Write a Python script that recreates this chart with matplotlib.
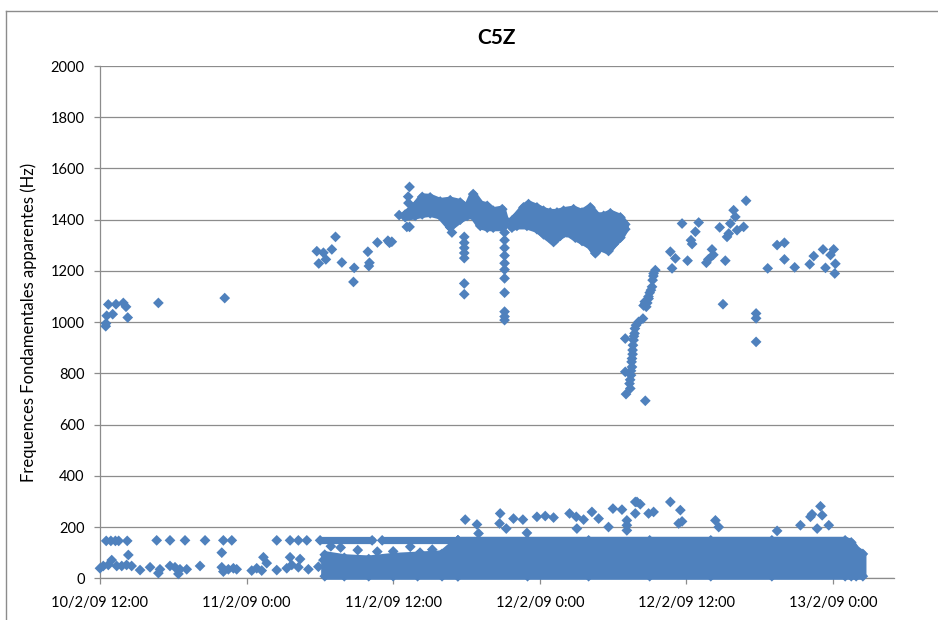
import numpy as np
import matplotlib
matplotlib.use('Agg')
import matplotlib.pyplot as plt
from matplotlib.lines import Line2D

plt.rcParams['font.family'] = ['Lato', 'DejaVu Sans']

# time is in hours since 10/2/09 12:00, values in Hz
tick_hours = [0, 12, 24, 36, 48, 60]
tick_labels = ['10/2/09 12:00', '11/2/09 0:00', '11/2/09 12:00',
               '12/2/09 0:00', '12/2/09 12:00', '13/2/09 0:00']

# isolated points in the upper (~700-1530 Hz) part
high_t = [0.47, 0.49, 0.55, 0.68, 1.04, 1.31, 1.91, 2.13, 2.27, 4.78, 10.21,
          17.75, 17.91, 18.29, 18.49, 18.98, 19.28, 19.80, 20.81, 20.75, 21.93,
          22.06, 22.01, 22.71, 23.57, 23.70, 23.89, 24.49, 25.12, 25.34, 25.34,
          25.23, 25.25, 28.81,
          29.82, 29.82, 29.82, 29.82, 29.82, 29.82, 29.82,
          33.12, 33.12, 33.12, 33.12, 33.12, 33.12, 33.12, 33.12, 33.12, 33.12,
          33.12,
          43.00, 43.00, 43.06, 43.41, 43.47, 43.55, 43.55, 43.60, 43.68, 43.76,
          43.88, 44.09, 44.45, 44.64, 44.64, 44.91, 44.72, 45.19, 45.24, 45.32,
          45.46, 43.79, 43.71, 43.63, 43.60, 43.52, 43.47, 43.40, 43.35, 44.50,
          44.60, 44.80, 44.90, 45.00, 45.10, 45.30,
          46.69, 46.83, 47.10, 47.65, 48.10, 48.38, 48.47, 48.74, 49.01, 49.64,
          49.80, 50.10, 50.21, 50.73, 51.00, 51.19, 51.33, 51.47, 51.60, 51.87,
          52.01, 52.15, 52.69, 52.89, 53.71, 53.71, 53.71, 54.66, 55.43, 56.03,
          56.03, 56.87, 58.10, 58.43, 59.19, 59.39, 59.80, 60.06, 60.15, 60.20]
high_hz = [984, 995, 1025, 1069, 1031, 1070, 1075, 1060, 1018, 1075, 1094,
           1277, 1229, 1271, 1245, 1284, 1333, 1233, 1212, 1157, 1275,
           1232, 1219, 1311, 1318, 1310, 1314, 1418, 1372, 1528, 1372,
           1490, 1465, 1350,
           1333, 1310, 1290, 1270, 1250, 1151, 1109,
           1350, 1320, 1290, 1260, 1230, 1205, 1171, 1115, 1041, 1022,
           1008,
           936, 806, 719, 741, 793, 825, 858, 891, 930, 956,
           988, 1001, 1014, 693, 1073, 1092, 1060, 1138, 1164, 1190,
           1203, 975, 945, 910, 875, 845, 810, 775, 760, 1065,
           1080, 1075, 1100, 1115, 1125, 1180,
           1275, 1210, 1249, 1385, 1240, 1320, 1305, 1353, 1389, 1232,
           1245, 1284, 1263, 1370, 1070, 1240, 1333, 1346, 1385, 1437,
           1411, 1359, 1372, 1474, 1034, 1015, 923, 1210, 1301, 1310,
           1245, 1214, 1226, 1258, 1284, 1212, 1262, 1284, 1190, 1228]

# dense cluster envelopes (marker centres on the outer edge)
c1_t = [24.98, 25.80, 26.38, 27.03, 27.85, 28.67, 29.49, 30.06, 30.55, 31.13,
        31.70, 32.19, 32.93, 33.17]
c1_hi = [1420, 1454, 1489, 1487, 1471, 1476, 1467, 1448, 1500, 1461,
         1454, 1435, 1441, 1400]
c1_lo = [1410, 1415, 1421, 1425, 1415, 1370, 1400, 1415, 1415, 1376,
         1369, 1369, 1369, 1380]

c2_hi_t = [33.72, 34.13, 34.67, 35.08, 35.77, 36.31, 36.86, 37.41, 37.95,
           38.77, 39.46, 40.14, 40.68, 41.23, 41.78, 42.60, 43.00]
c2_hi = [1396, 1415, 1448, 1461, 1448, 1435, 1428, 1428, 1435,
         1441, 1428, 1448, 1415, 1415, 1425, 1409, 1382]
c2_lo_t = [33.72, 34.13, 34.95, 35.77, 36.31, 37.13, 37.68, 38.23, 38.91,
           39.46, 40.14, 40.55, 40.96, 41.63, 42.05, 42.60, 43.00]
c2_lo = [1369, 1376, 1376, 1363, 1343, 1313, 1337, 1350, 1330,
         1317, 1298, 1269, 1291, 1278, 1304, 1330, 1363]

# solid low-frequency band
band_t = [29.3, 35.0, 40.0, 45.0, 50.0, 55.0, 61.0, 61.5, 61.9, 62.45]
band_hi = [148, 148, 148, 148, 148, 148, 148, 140, 112, 95]
band_lo = [8, 8, 8, 8, 8, 8, 8, 8, 8, 8]

left_band_t = [18.4, 20.0, 22.0, 24.0, 26.0, 28.0, 29.3]
left_band_hi = [92, 80, 75, 85, 90, 95, 148]
left_band_lo = [8, 8, 8, 8, 8, 8, 8]

row150_segments = [(18.02, 22.28), (23.10, 29.30)]
row150_hz = 148

# isolated points in the low part
low_t = [0.51, 0.89, 1.26, 1.53, 2.23, 0.00, 0.27, 0.68, 0.96, 1.37, 1.78,
         2.18, 2.32, 2.59, 3.28, 4.10, 4.78, 4.91, 5.73, 6.14, 6.42, 6.55,
         7.10, 8.19, 9.97, 9.97, 10.10, 10.51, 10.92, 11.19, 12.42, 12.83,
         13.24, 13.38, 13.65, 14.47, 15.29, 15.56, 15.70, 16.38, 16.24, 17.06,
         17.88, 18.29, 4.64, 5.73, 6.96, 8.60, 10.10, 10.79, 14.47, 15.56,
         16.24, 16.93,
         18.9, 19.7, 21.1, 22.7, 24.0, 25.4, 26.2, 27.2, 27.9, 28.5,
         29.90, 30.86, 30.99, 32.76, 32.71, 33.26, 33.85, 34.62, 34.95, 35.77,
         36.45, 37.13, 38.44, 38.99, 39.04, 39.59, 40.27, 40.82, 41.63, 41.99,
         42.73, 43.13, 43.13, 43.13, 43.96, 43.82, 44.23, 43.82, 44.91, 45.32,
         46.69, 47.51, 47.37, 47.65, 50.38, 50.65, 55.43, 57.34, 58.16, 58.29,
         58.98, 59.12, 58.71, 59.66]
low_hz = [146, 146, 146, 146, 146, 39, 48, 52, 71, 48, 48,
          52, 91, 48, 32, 43, 20, 35, 48, 43, 17, 35,
          35, 48, 100, 43, 26, 35, 39, 35, 30, 39,
          30, 82, 59, 32, 39, 82, 52, 75, 43, 35,
          45, 71, 148, 148, 148, 148, 148, 148, 148, 148,
          148, 148,
          125, 120, 110, 104, 105, 123, 100, 112, 91, 110,
          229, 210, 175, 253, 214, 194, 233, 229, 177, 240,
          243, 237, 253, 240, 194, 229, 259, 233, 200, 272,
          268, 187, 207, 226, 298, 298, 289, 253, 253, 259,
          298, 266, 214, 222, 226, 200, 185, 207, 240, 250,
          281, 246, 194, 207]

blue = '#4F81BD'
grid_grey = '#8C8C8C'

fig = plt.figure(figsize=(9.38, 6.2), dpi=100)
ax = fig.add_axes([0.1066, 0.0673, 0.8465, 0.8262])

# dense areas: envelope filled, outlined with a stroke about a marker wide
dense_style = dict(facecolor=blue, edgecolor=blue, linewidth=5.2,
                   joinstyle='round', clip_on=False, zorder=3)
scatter_style = dict(marker='D', s=30, color=blue, edgecolors='none',
                     clip_on=False, zorder=3)

envelopes = [
    (c1_t, c1_hi, c1_t, c1_lo),
    (c2_hi_t, c2_hi, c2_lo_t, c2_lo),
    (band_t, band_hi, band_t, band_lo),
    (left_band_t, left_band_hi, left_band_t, left_band_lo),
]
for t_hi, hi, t_lo, lo in envelopes:
    ax.fill(np.r_[t_hi, t_lo[::-1]], np.r_[hi, lo[::-1]], **dense_style)
    ax.scatter(t_hi, hi, **scatter_style)
    ax.scatter(t_lo, lo, **scatter_style)

for t0, t1 in row150_segments:
    ax.plot([t0, t1], [row150_hz, row150_hz], color=blue, linewidth=5.2,
            solid_capstyle='round', clip_on=False, zorder=3)
    ax.scatter([t0, t1], [row150_hz, row150_hz], **scatter_style)

ax.scatter(high_t, high_hz, **scatter_style)
ax.scatter(low_t, low_hz, **scatter_style)

ax.set_xlim(0, 65)
ax.set_ylim(0, 2000)
ax.set_yticks(np.arange(0, 2001, 200))
ax.set_xticks(tick_hours)
ax.set_xticklabels(tick_labels)
ax.yaxis.grid(True, color=grid_grey, linewidth=0.9)
ax.set_axisbelow(True)
for side in ('top', 'right'):
    ax.spines[side].set_visible(False)
for side in ('left', 'bottom'):
    ax.spines[side].set_color(grid_grey)
    ax.spines[side].set_linewidth(0.9)
ax.tick_params(axis='both', colors=grid_grey, length=4, width=0.9,
               labelcolor='black', labelsize=10.5)
ax.tick_params(axis='y', pad=7)
ax.tick_params(axis='x', pad=9)

ax.set_title('C5Z', fontsize=15, fontweight='bold', pad=16)
ax.set_ylabel('Frequences Fondamentales apparentes (Hz)', fontsize=12,
              labelpad=10)

# chart frame
frame = dict(color='#8C8C8C', linewidth=1.0, transform=fig.transFigure)
fig.add_artist(Line2D([0.006, 1.0], [0.982, 0.982], **frame))
fig.add_artist(Line2D([0.006, 0.006], [0.0, 0.982], **frame))

fig.savefig('out.png', dpi=100)
